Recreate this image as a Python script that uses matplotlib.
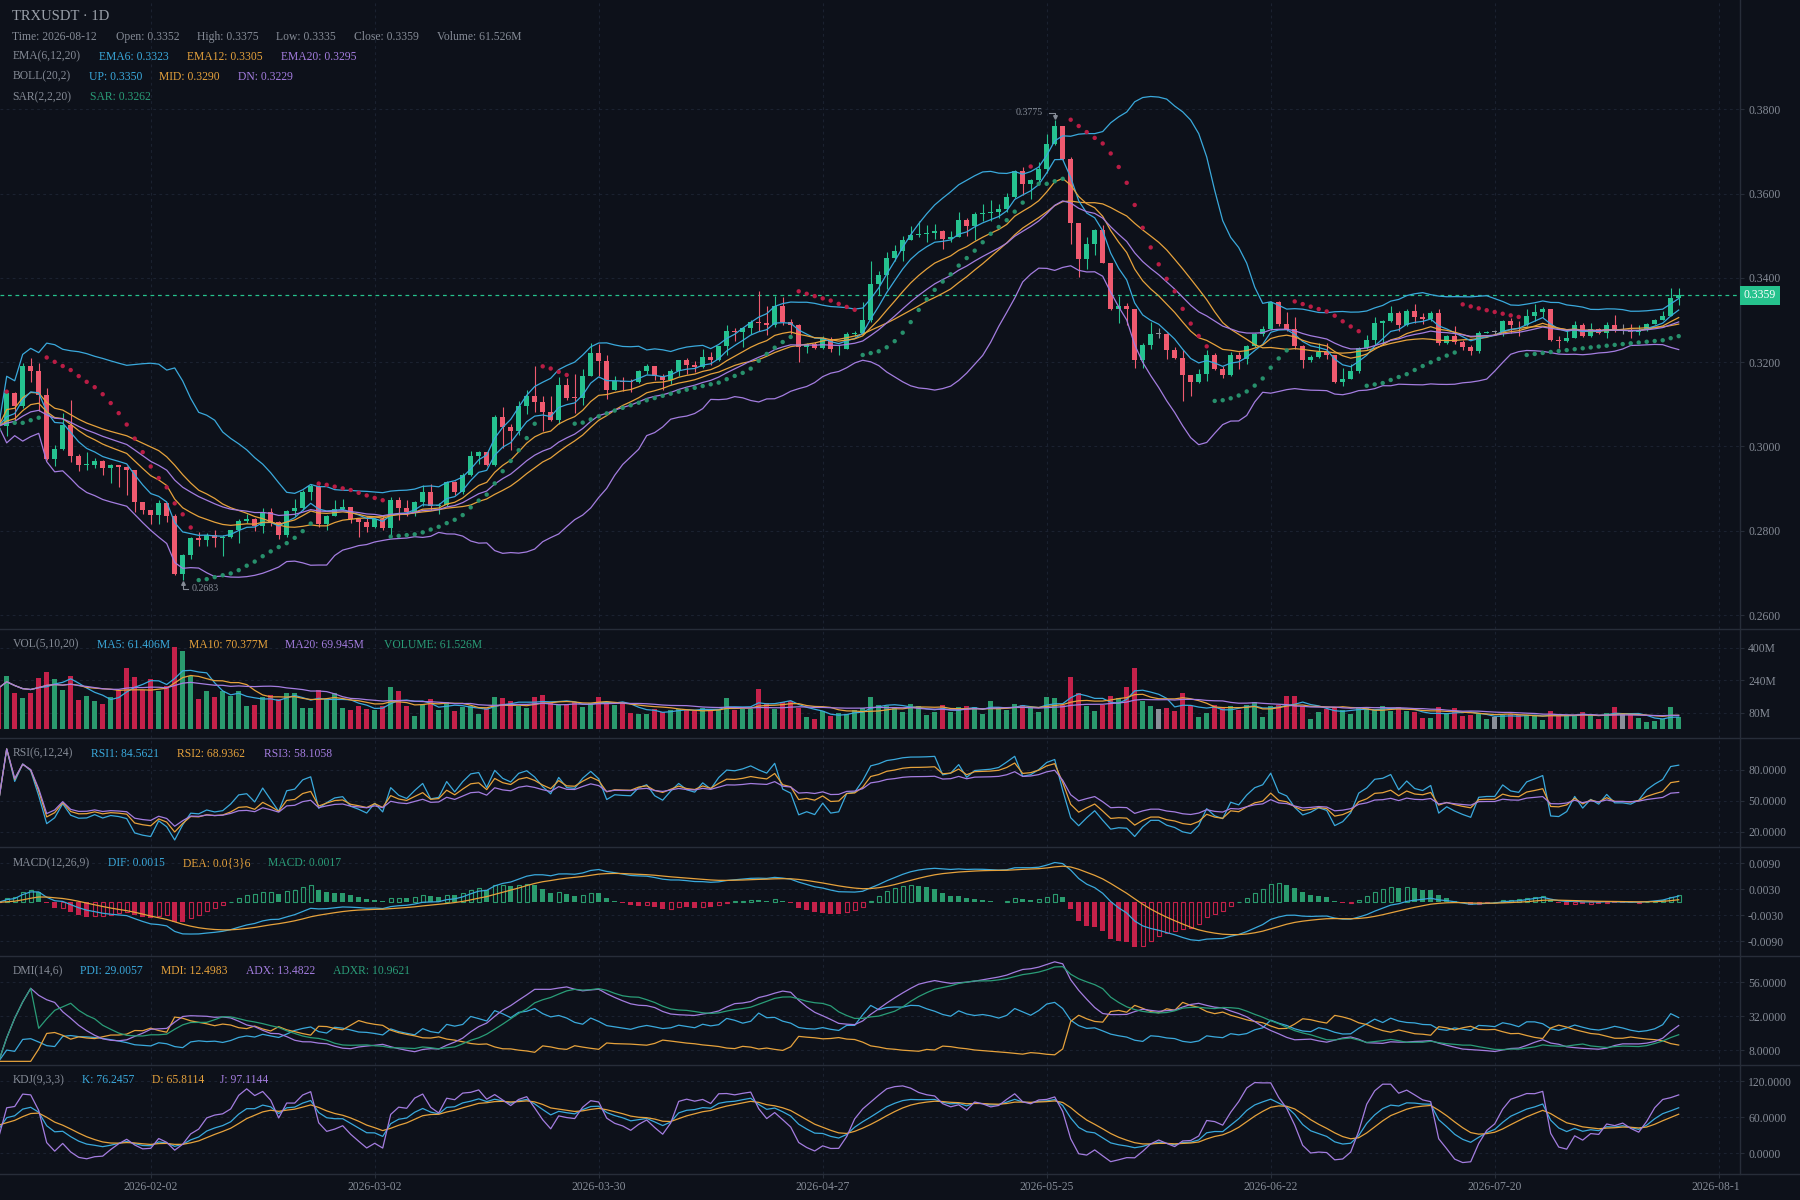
# TRXUSDT DAILY CHART WITH INDICATORS

import numpy as np
import pandas as pd
import matplotlib
matplotlib.use("Agg")
import matplotlib.pyplot as plt
from matplotlib.lines import Line2D
from matplotlib.transforms import blended_transform_factory


# DATA (one value per day from 2026-01-14)

start_date = "2026-01-14"
first_open = 0.3073

closes = [
    0.3048, 0.3127, 0.3097, 0.3190, 0.3178, 0.3121, 0.2971, 0.2993, 0.3052, 0.2978,
    0.2955, 0.2956, 0.2966, 0.2949, 0.2955, 0.2951, 0.2944, 0.2868, 0.2849, 0.2837,
    0.2865, 0.2835, 0.2697, 0.2742, 0.2783, 0.2779, 0.2791, 0.2783, 0.2786, 0.2801,
    0.2824, 0.2827, 0.2811, 0.2845, 0.2821, 0.2790, 0.2848, 0.2854, 0.2892, 0.2907,
    0.2817, 0.2836, 0.2852, 0.2856, 0.2829, 0.2820, 0.2809, 0.2828, 0.2806, 0.2872,
    0.2853, 0.2845, 0.2868, 0.2892, 0.2858, 0.2862, 0.2915, 0.2892, 0.2933, 0.2978,
    0.2987, 0.2955, 0.3069, 0.3046, 0.3036, 0.3097, 0.3120, 0.3105, 0.3081, 0.3062,
    0.3146, 0.3116, 0.3114, 0.3168, 0.3221, 0.3202, 0.3134, 0.3155, 0.3153, 0.3152,
    0.3179, 0.3190, 0.3167, 0.3157, 0.3180, 0.3204, 0.3193, 0.3189, 0.3213, 0.3204,
    0.3238, 0.3273, 0.3272, 0.3281, 0.3296, 0.3292, 0.3289, 0.3332, 0.3296, 0.3289,
    0.3236, 0.3242, 0.3234, 0.3254, 0.3230, 0.3232, 0.3267, 0.3270, 0.3301, 0.3386,
    0.3407, 0.3447, 0.3464, 0.3490, 0.3502, 0.3503, 0.3506, 0.3511, 0.3492, 0.3498,
    0.3538, 0.3522, 0.3551, 0.3554, 0.3557, 0.3564, 0.3592, 0.3654, 0.3623, 0.3631,
    0.3658, 0.3718, 0.3759, 0.3682, 0.3531, 0.3445, 0.3481, 0.3514, 0.3435, 0.3326,
    0.3332, 0.3326, 0.3204, 0.3241, 0.3267, 0.3267, 0.3229, 0.3210, 0.3170, 0.3154,
    0.3172, 0.3217, 0.3184, 0.3170, 0.3217, 0.3208, 0.3239, 0.3267, 0.3279, 0.3342,
    0.3290, 0.3279, 0.3239, 0.3206, 0.3213, 0.3224, 0.3216, 0.3152, 0.3160, 0.3178,
    0.3233, 0.3253, 0.3293, 0.3298, 0.3317, 0.3287, 0.3322, 0.3306, 0.3302, 0.3317,
    0.3245, 0.3261, 0.3247, 0.3236, 0.3227, 0.3269, 0.3271, 0.3271, 0.3298, 0.3289,
    0.3287, 0.3310, 0.3318, 0.3327, 0.3252, 0.3250, 0.3258, 0.3287, 0.3261, 0.3279,
    0.3269, 0.3289, 0.3273, 0.3273, 0.3271, 0.3276, 0.3291, 0.3301, 0.3310, 0.3352,
    0.3359,
]

highs = [
    0.3080, 0.3130, 0.3130, 0.3198, 0.3211, 0.3199, 0.3138, 0.3004, 0.3079, 0.3111,
    0.2981, 0.2987, 0.2973, 0.2967, 0.2958, 0.2957, 0.2953, 0.2944, 0.2868, 0.2849,
    0.2874, 0.2865, 0.2839, 0.2745, 0.2786, 0.2797, 0.2795, 0.2803, 0.2790, 0.2803,
    0.2828, 0.2839, 0.2830, 0.2854, 0.2854, 0.2822, 0.2850, 0.2876, 0.2896, 0.2912,
    0.2909, 0.2837, 0.2874, 0.2876, 0.2856, 0.2829, 0.2835, 0.2831, 0.2835, 0.2880,
    0.2880, 0.2874, 0.2870, 0.2908, 0.2910, 0.2866, 0.2918, 0.2917, 0.2937, 0.2990,
    0.2990, 0.2988, 0.3075, 0.3093, 0.3054, 0.3109, 0.3135, 0.3190, 0.3120, 0.3120,
    0.3164, 0.3162, 0.3172, 0.3183, 0.3246, 0.3243, 0.3218, 0.3168, 0.3165, 0.3160,
    0.3181, 0.3196, 0.3190, 0.3171, 0.3183, 0.3206, 0.3209, 0.3202, 0.3230, 0.3224,
    0.3239, 0.3288, 0.3280, 0.3283, 0.3301, 0.3368, 0.3333, 0.3358, 0.3354, 0.3303,
    0.3290, 0.3246, 0.3248, 0.3262, 0.3259, 0.3240, 0.3272, 0.3275, 0.3343, 0.3439,
    0.3417, 0.3461, 0.3478, 0.3500, 0.3522, 0.3535, 0.3526, 0.3527, 0.3514, 0.3511,
    0.3556, 0.3542, 0.3557, 0.3575, 0.3585, 0.3575, 0.3601, 0.3656, 0.3664, 0.3634,
    0.3674, 0.3742, 0.3775, 0.3761, 0.3686, 0.3531, 0.3498, 0.3516, 0.3526, 0.3435,
    0.3357, 0.3340, 0.3326, 0.3245, 0.3296, 0.3282, 0.3268, 0.3235, 0.3229, 0.3170,
    0.3184, 0.3229, 0.3221, 0.3190, 0.3224, 0.3225, 0.3241, 0.3269, 0.3285, 0.3344,
    0.3344, 0.3319, 0.3306, 0.3240, 0.3217, 0.3245, 0.3245, 0.3216, 0.3187, 0.3195,
    0.3235, 0.3265, 0.3306, 0.3301, 0.3333, 0.3322, 0.3327, 0.3337, 0.3317, 0.3322,
    0.3325, 0.3265, 0.3285, 0.3253, 0.3241, 0.3275, 0.3275, 0.3276, 0.3301, 0.3305,
    0.3297, 0.3326, 0.3337, 0.3331, 0.3326, 0.3261, 0.3277, 0.3298, 0.3293, 0.3294,
    0.3281, 0.3295, 0.3313, 0.3291, 0.3291, 0.3287, 0.3294, 0.3303, 0.3321, 0.3376,
    0.3375,
]

lows = [
    0.3040, 0.3024, 0.3056, 0.3091, 0.3152, 0.3083, 0.2969, 0.2953, 0.2991, 0.2963,
    0.2941, 0.2944, 0.2949, 0.2932, 0.2914, 0.2904, 0.2886, 0.2844, 0.2839, 0.2817,
    0.2815, 0.2821, 0.2695, 0.2683, 0.2732, 0.2765, 0.2765, 0.2762, 0.2740, 0.2783,
    0.2772, 0.2819, 0.2799, 0.2795, 0.2811, 0.2781, 0.2786, 0.2835, 0.2850, 0.2874,
    0.2809, 0.2802, 0.2835, 0.2849, 0.2819, 0.2786, 0.2798, 0.2807, 0.2803, 0.2791,
    0.2825, 0.2835, 0.2835, 0.2858, 0.2849, 0.2839, 0.2858, 0.2886, 0.2888, 0.2931,
    0.2959, 0.2953, 0.2953, 0.2996, 0.2991, 0.3028, 0.3078, 0.3081, 0.3036, 0.3061,
    0.3054, 0.3111, 0.3079, 0.3099, 0.3166, 0.3167, 0.3113, 0.3134, 0.3131, 0.3129,
    0.3151, 0.3171, 0.3157, 0.3134, 0.3149, 0.3167, 0.3172, 0.3176, 0.3185, 0.3194,
    0.3202, 0.3217, 0.3251, 0.3236, 0.3267, 0.3275, 0.3264, 0.3283, 0.3289, 0.3267,
    0.3201, 0.3222, 0.3230, 0.3232, 0.3225, 0.3217, 0.3231, 0.3263, 0.3266, 0.3296,
    0.3360, 0.3374, 0.3441, 0.3441, 0.3489, 0.3498, 0.3486, 0.3492, 0.3469, 0.3486,
    0.3497, 0.3500, 0.3490, 0.3534, 0.3535, 0.3543, 0.3557, 0.3590, 0.3597, 0.3587,
    0.3623, 0.3648, 0.3716, 0.3680, 0.3481, 0.3401, 0.3421, 0.3455, 0.3434, 0.3324,
    0.3294, 0.3288, 0.3187, 0.3186, 0.3231, 0.3257, 0.3208, 0.3208, 0.3108, 0.3120,
    0.3150, 0.3156, 0.3182, 0.3163, 0.3168, 0.3184, 0.3196, 0.3237, 0.3261, 0.3277,
    0.3285, 0.3273, 0.3231, 0.3187, 0.3200, 0.3211, 0.3208, 0.3150, 0.3144, 0.3159,
    0.3174, 0.3232, 0.3241, 0.3243, 0.3296, 0.3275, 0.3285, 0.3293, 0.3290, 0.3298,
    0.3241, 0.3243, 0.3244, 0.3229, 0.3217, 0.3221, 0.3268, 0.3264, 0.3261, 0.3269,
    0.3261, 0.3285, 0.3297, 0.3306, 0.3251, 0.3233, 0.3247, 0.3257, 0.3260, 0.3259,
    0.3267, 0.3257, 0.3271, 0.3267, 0.3257, 0.3265, 0.3275, 0.3290, 0.3299, 0.3309,
    0.3335,
]

# volume in millions
volumes = [
    203, 264, 178, 154, 178, 252, 282, 247, 195, 264,
    146, 162, 141, 124, 157, 195, 301, 255, 195, 249,
    190, 211, 403, 384, 260, 150, 190, 157, 187, 162,
    190, 113, 121, 157, 167, 150, 178, 178, 105, 105,
    195, 150, 178, 105, 96, 113, 101, 96, 113, 206,
    190, 113, 64, 121, 150, 96, 134, 91, 108, 113,
    75, 105, 157, 154, 137, 113, 105, 157, 170, 129,
    121, 121, 134, 108, 129, 157, 134, 118, 134, 80,
    75, 75, 101, 85, 96, 101, 96, 91, 105, 96,
    101, 154, 96, 101, 101, 198, 129, 101, 134, 141,
    105, 59, 52, 91, 64, 80, 75, 96, 105, 159,
    118, 113, 108, 85, 124, 113, 72, 85, 118, 85,
    108, 113, 108, 75, 137, 108, 96, 124, 118, 109,
    85, 159, 154, 121, 256, 178, 113, 91, 121, 162,
    154, 206, 301, 137, 116, 100, 105, 91, 178, 113,
    59, 80, 118, 108, 113, 96, 121, 134, 59, 113,
    118, 162, 162, 113, 52, 85, 101, 105, 96, 75,
    108, 105, 96, 113, 91, 108, 88, 85, 55, 55,
    108, 80, 105, 64, 68, 75, 52, 59, 68, 75,
    68, 68, 68, 47, 88, 68, 64, 68, 85, 68,
    52, 80, 109, 75, 68, 55, 36, 42, 52, 109,
    61.526,
]

date_tick_labels = ["2026-02-02", "2026-03-02", "2026-03-30", "2026-04-27",
                    "2026-05-25", "2026-06-22", "2026-07-20", "2026-08-17"]

price_ticks = [0.26, 0.28, 0.30, 0.32, 0.34, 0.36, 0.38]
volume_ticks = [80, 240, 400]
rsi_ticks = [20, 50, 80]
macd_ticks = [-0.009, -0.003, 0.003, 0.009]
dmi_ticks = [8, 32, 56]
kdj_ticks = [0, 60, 120]

title_text = "TRXUSDT · 1D"
info_texts = ["Time: 2026-08-12", "Open: 0.3352", "High: 0.3375", "Low: 0.3335",
              "Close: 0.3359", "Volume: 61.526M"]
ema_texts = ["EMA(6,12,20)", "EMA6: 0.3323", "EMA12: 0.3305", "EMA20: 0.3295"]
boll_texts = ["BOLL(20,2)", "UP: 0.3350", "MID: 0.3290", "DN: 0.3229"]
sar_texts = ["SAR(2,2,20)", "SAR: 0.3262"]
vol_texts = ["VOL(5,10,20)", "MA5: 61.406M", "MA10: 70.377M", "MA20: 69.945M", "VOLUME: 61.526M"]
rsi_texts = ["RSI(6,12,24)", "RSI1: 84.5621", "RSI2: 68.9362", "RSI3: 58.1058"]
macd_texts = ["MACD(12,26,9)", "DIF: 0.0015", "DEA: 0.0{3}6", "MACD: 0.0017"]
dmi_texts = ["DMI(14,6)", "PDI: 29.0057", "MDI: 12.4983", "ADX: 13.4822", "ADXR: 10.9621"]
kdj_texts = ["KDJ(9,3,3)", "K: 76.2457", "D: 65.8114", "J: 97.1144"]


# COLOURS

BG = "#0d111a"
SEP = "#272d39"
GRID = "#1b2230"
TXT = "#858b96"
TITLE = "#9aa0a9"
CYAN = "#3aa9dc"
ORANGE = "#e6a23c"
PURPLE = "#a47de0"
TEAL = "#2a9d78"
UP = "#25c28f"
DOWN = "#ef5a6f"
VUP = "#2a9b6e"
VDOWN = "#c5214a"
DOJI = "#8a8f98"
SAR_UP = "#27906c"
SAR_DOWN = "#b91d45"
LAST = "#26c28d"

W, H = 1800, 1200
PLOT_W = 1740
X0 = 1.3 / 8
X1 = (PLOT_W + 1.3) / 8

plt.rcParams["font.family"] = ["Liberation Serif", "DejaVu Serif"]


# BUILDING THE TABLE

def build_frame():
    df = pd.DataFrame({"close": closes, "high": highs, "low": lows, "volume": volumes})
    df["open"] = df["close"].shift(1)
    df.loc[0, "open"] = first_open
    df["high"] = df[["high", "open", "close"]].max(axis=1)
    df["low"] = df[["low", "open", "close"]].min(axis=1)
    df["date"] = pd.date_range(start_date, periods=len(df), freq="D")
    return df


# INDICATORS

def ema(s, n):
    return s.ewm(span=n, adjust=False).mean()


def sma_cn(s, n):
    return s.ewm(alpha=1.0 / n, adjust=False).mean()


def parabolic_sar(high, low, start=0.02, step=0.02, top=0.2):
    # same stepping as the chart library: starts in a falling state
    n = len(high)
    out = np.zeros(n)
    af = start
    ep = None
    rising = False
    sar = 0.0
    for i in range(n):
        prev = sar
        if rising:
            if ep is None or ep < high[i]:
                ep = high[i]
                af = min(af + step, top)
            sar = prev + af * (ep - prev)
            low_min = min(low[max(1, i) - 1], low[i])
            if sar > low[i]:
                sar = ep
                af = start
                ep = None
                rising = False
            elif sar > low_min:
                sar = low_min
        else:
            if ep is None or ep > low[i]:
                ep = low[i]
                af = min(af + step, top)
            sar = prev + af * (ep - prev)
            high_max = max(high[max(1, i) - 1], high[i])
            if sar < high[i]:
                sar = ep
                af = 0.0
                ep = None
                rising = True
            elif sar < high_max:
                sar = high_max
        out[i] = sar
    return out


def add_indicators(df):
    c = df["close"]
    df["ema6"] = ema(c, 6)
    df["ema12"] = ema(c, 12)
    df["ema20"] = ema(c, 20)

    df["mid"] = c.rolling(20, min_periods=1).mean()
    std = c.rolling(20, min_periods=1).std(ddof=0)
    df["up"] = df["mid"] + 2 * std
    df["dn"] = df["mid"] - 2 * std

    df["sar"] = parabolic_sar(df["high"].values, df["low"].values)

    v = df["volume"]
    df["vma5"] = v.rolling(5, min_periods=1).mean()
    df["vma10"] = v.rolling(10, min_periods=1).mean()
    df["vma20"] = v.rolling(20, min_periods=1).mean()

    diff = c.diff().fillna(0)
    for name, n in [("rsi1", 6), ("rsi2", 12), ("rsi3", 24)]:
        gain = sma_cn(diff.clip(lower=0), n)
        total = sma_cn(diff.abs(), n)
        df[name] = (gain / total.replace(0, np.nan) * 100).fillna(50)

    df["dif"] = ema(c, 12) - ema(c, 26)
    df["dea"] = ema(df["dif"], 9)
    df["macd"] = 2 * (df["dif"] - df["dea"])

    prev_close = c.shift(1).fillna(c)
    prev_high = df["high"].shift(1).fillna(df["high"])
    prev_low = df["low"].shift(1).fillna(df["low"])
    tr = pd.concat([df["high"] - df["low"], (df["high"] - prev_close).abs(),
                    (prev_close - df["low"]).abs()], axis=1).max(axis=1)
    hd = df["high"] - prev_high
    ld = prev_low - df["low"]
    dmp = hd.where((hd > 0) & (hd > ld), 0.0)
    dmm = ld.where((ld > 0) & (ld > hd), 0.0)
    mtr = sma_cn(tr, 14)
    df["pdi"] = sma_cn(dmp, 14) / mtr * 100
    df["mdi"] = sma_cn(dmm, 14) / mtr * 100
    dx = ((df["mdi"] - df["pdi"]).abs() / (df["mdi"] + df["pdi"]).replace(0, np.nan) * 100).fillna(0)
    df["adx"] = sma_cn(dx, 6)
    df["adxr"] = ((df["adx"] + df["adx"].shift(5)) / 2).fillna(df["adx"])

    llv = df["low"].rolling(9, min_periods=1).min()
    hhv = df["high"].rolling(9, min_periods=1).max()
    rsv = ((c - llv) / (hhv - llv).replace(0, np.nan) * 100).fillna(50)
    k_vals, d_vals = [], []
    k, d = 50.0, 50.0
    for r in rsv:
        k = (2 * k + r) / 3
        d = (2 * d + k) / 3
        k_vals.append(k)
        d_vals.append(d)
    df["k"] = k_vals
    df["d"] = d_vals
    df["j"] = 3 * df["k"] - 2 * df["d"]
    return df


# PANEL HELPERS

def candle_colors(df, up, down):
    cols = []
    for o, c in zip(df["open"], df["close"]):
        if c > o:
            cols.append(up)
        elif c < o:
            cols.append(down)
        else:
            cols.append(DOJI)
    return cols


def make_panel(fig, top, bottom):
    return fig.add_axes([0, 1 - bottom / H, PLOT_W / W, (bottom - top) / H])


def style_panel(ax, ylim, yticks, fmt, tick_idx):
    ax.set_facecolor(BG)
    ax.set_xlim(X0, X1)
    ax.set_ylim(*ylim)
    for side in ["top", "left", "bottom"]:
        ax.spines[side].set_visible(False)
    ax.spines["right"].set_color(SEP)
    ax.spines["right"].set_linewidth(1.0)
    ax.yaxis.tick_right()
    ax.set_yticks(yticks)
    ax.set_yticklabels([fmt(t) for t in yticks])
    ax.tick_params(axis="y", colors=SEP, labelcolor=TXT, labelsize=8.4,
                   length=2.6, width=0.8, pad=3.2)
    ax.set_xticks(tick_idx)
    ax.tick_params(axis="x", length=0, labelbottom=False)
    ax.grid(True, color=GRID, linestyle=(0, (2.5, 3)), linewidth=0.8)
    ax.set_axisbelow(True)


def put_row(fig, y, texts, xs, colors, size=8.4):
    for s, x, col in zip(texts, xs, colors):
        fig.text(x / W, 1 - y / H, s, color=col, fontsize=size, va="center", ha="left")


# DRAWING

def draw_price(ax, df):
    idx = df.index.values
    cols = candle_colors(df, UP, DOWN)
    ax.vlines(idx, df["low"], df["high"], colors=cols, linewidth=0.8, zorder=2)
    body = (df["close"] - df["open"]).abs().clip(lower=0.00022)
    bottom = df[["open", "close"]].min(axis=1)
    ax.bar(idx, body, bottom=bottom, width=0.68, color=cols, linewidth=0, zorder=3)

    for name, col in [("up", CYAN), ("mid", ORANGE), ("dn", PURPLE),
                      ("ema6", CYAN), ("ema12", ORANGE), ("ema20", PURPLE)]:
        ax.plot(idx, df[name], color=col, linewidth=0.9, zorder=4)

    half = (df["high"] + df["low"]) / 2
    sar_cols = [SAR_UP if s < h else SAR_DOWN for s, h in zip(df["sar"], half)]
    ax.scatter(idx, df["sar"], s=10, c=sar_cols, linewidths=0, zorder=5)

    last = df["close"].iloc[-1]
    ax.axhline(last, color=LAST, linewidth=0.9, linestyle=(0, (3, 3)), zorder=1)
    tr = blended_transform_factory(ax.transAxes, ax.transData)
    ax.text(1.0 + 4 / PLOT_W, last, f"{last:.4f}", transform=tr, color="white",
            fontsize=8.4, va="center", ha="left", clip_on=False, zorder=10,
            bbox=dict(boxstyle="square,pad=0.3", fc=LAST, ec="none"))

    # highest / lowest marks
    ylo, yhi = ax.get_ylim()
    py = (yhi - ylo) / 629.0
    px = 1 / 8.0
    ih = int(df["high"].idxmax())
    hv = df["high"].max()
    ax.plot([ih - 5.5 * px, ih, ih], [hv + 7 * py, hv + 7 * py, hv + 3.5 * py],
            color=TXT, linewidth=0.8, zorder=6)
    ax.plot([ih], [hv + 3 * py], marker="v", markersize=2.6, color=TXT, zorder=6)
    ax.text(ih - 11.5 * px, hv + 7.5 * py, f"{hv:.4f}", color=TXT, fontsize=7.2,
            ha="right", va="center", zorder=6)
    il = int(df["low"].idxmin())
    lv = df["low"].min()
    ax.plot([il, il, il + 5 * px], [lv - 3.5 * py, lv - 9 * py, lv - 9 * py],
            color=TXT, linewidth=0.8, zorder=6)
    ax.plot([il], [lv - 3 * py], marker="^", markersize=2.6, color=TXT, zorder=6)
    ax.text(il + 9 * px, lv - 8 * py, f"{lv:.4f}", color=TXT, fontsize=7.2,
            ha="left", va="center", zorder=6)


def draw_volume(ax, df):
    idx = df.index.values
    cols = candle_colors(df, VUP, VDOWN)
    ax.bar(idx, df["volume"], width=0.62, color=cols, linewidth=0, zorder=2)
    ax.plot(idx, df["vma5"], color=CYAN, linewidth=0.9, zorder=3)
    ax.plot(idx, df["vma10"], color=ORANGE, linewidth=0.9, zorder=3)
    ax.plot(idx, df["vma20"], color=PURPLE, linewidth=0.9, zorder=3)


def draw_macd(ax, df):
    idx = df.index.values
    m = df["macd"].values
    prev = np.concatenate([[m[0]], m[:-1]])
    for i in range(len(m)):
        col = VUP if m[i] > 0 else VDOWN
        if m[i] < prev[i]:
            ax.bar(idx[i], m[i], width=0.6, color=col, linewidth=0, zorder=2)
        else:
            ax.bar(idx[i], m[i], width=0.5, fill=False, edgecolor=col, linewidth=0.8, zorder=2)
    ax.plot(idx, df["dif"], color=CYAN, linewidth=0.9, zorder=3)
    ax.plot(idx, df["dea"], color=ORANGE, linewidth=0.9, zorder=3)


def create_chart(df):
    fig = plt.figure(figsize=(W / 100, H / 100), dpi=100, facecolor=BG)
    start = pd.Timestamp(start_date)
    tick_idx = [(pd.Timestamp(t) - start).days for t in date_tick_labels]

    ax_p = make_panel(fig, 0, 629)
    style_panel(ax_p, (0.2567, 0.4059), price_ticks, lambda v: f"{v:.4f}", tick_idx)
    draw_price(ax_p, df)

    ax_v = make_panel(fig, 629, 738)
    style_panel(ax_v, (-43, 493), volume_ticks, lambda v: f"{v:.0f}M", tick_idx)
    draw_volume(ax_v, df)

    ax_r = make_panel(fig, 738, 847)
    style_panel(ax_r, (5.5, 110.5), rsi_ticks, lambda v: f"{v:.4f}", tick_idx)
    for name, col in [("rsi1", CYAN), ("rsi2", ORANGE), ("rsi3", PURPLE)]:
        ax_r.plot(df.index, df[name], color=col, linewidth=0.9)

    ax_m = make_panel(fig, 847, 956)
    style_panel(ax_m, (-0.01236, 0.01276), macd_ticks, lambda v: f"{v:.4f}", tick_idx)
    draw_macd(ax_m, df)

    ax_d = make_panel(fig, 956, 1065)
    style_panel(ax_d, (-2.6, 74.7), dmi_ticks, lambda v: f"{v:.4f}", tick_idx)
    for name, col in [("pdi", CYAN), ("mdi", ORANGE), ("adx", PURPLE), ("adxr", TEAL)]:
        ax_d.plot(df.index, df[name], color=col, linewidth=0.9)

    ax_k = make_panel(fig, 1065, 1174)
    style_panel(ax_k, (-34.4, 146.6), kdj_ticks, lambda v: f"{v:.4f}", tick_idx)
    for name, col in [("k", CYAN), ("d", ORANGE), ("j", PURPLE)]:
        ax_k.plot(df.index, df[name], color=col, linewidth=0.9)
    ax_k.tick_params(axis="x", length=2.6, width=0.8, color=SEP, direction="out")

    # time axis labels (last one is cut by the price scale)
    ax_t = make_panel(fig, 1174, 1200)
    ax_t.set_xlim(X0, X1)
    ax_t.set_ylim(0, 1)
    ax_t.axis("off")
    for i, lab in zip(tick_idx, date_tick_labels):
        ax_t.text(i, 0.5, lab, color=TXT, fontsize=8.4, ha="center", va="center", clip_on=True)

    # panel separators
    for y in [629, 738, 847, 956, 1065, 1174]:
        fig.add_artist(Line2D([0, 1], [1 - y / H, 1 - y / H], transform=fig.transFigure,
                              color=SEP, linewidth=1.0))

    # legends
    put_row(fig, 16, [title_text], [12.4], [TITLE], size=10.5)
    put_row(fig, 36.7, info_texts, [12.4, 115.6, 196.7, 276.3, 353.6, 436.7], [TXT] * 6)
    put_row(fig, 56.7, ema_texts, [12.4, 99.1, 187.1, 280.9], [TXT, CYAN, ORANGE, PURPLE])
    put_row(fig, 76.7, boll_texts, [12.4, 88.8, 159.2, 238.0], [TXT, CYAN, ORANGE, PURPLE])
    put_row(fig, 97.3, sar_texts, [12.4, 89.5], [TXT, TEAL])
    put_row(fig, 644.7, vol_texts, [12.4, 97.1, 188.7, 285.2, 383.5],
            [TXT, CYAN, ORANGE, PURPLE, TEAL])
    put_row(fig, 753.7, rsi_texts, [12.4, 91.4, 177.1, 263.6], [TXT, CYAN, ORANGE, PURPLE])
    put_row(fig, 863.3, macd_texts, [12.4, 108.2, 182.9, 268.2], [TXT, CYAN, ORANGE, TEAL])
    put_row(fig, 971.0, dmi_texts, [12.4, 80.4, 160.7, 245.7, 333.0],
            [TXT, CYAN, ORANGE, PURPLE, TEAL])
    put_row(fig, 1080.0, kdj_texts, [12.4, 81.5, 151.5, 220.4], [TXT, CYAN, ORANGE, PURPLE])

    fig.savefig("out.png", dpi=100, facecolor=BG)
    print("Saved out.png")


# MAIN PROGRAM

def main():
    df = build_frame()
    df = add_indicators(df)
    create_chart(df)


if __name__ == "__main__":
    main()
